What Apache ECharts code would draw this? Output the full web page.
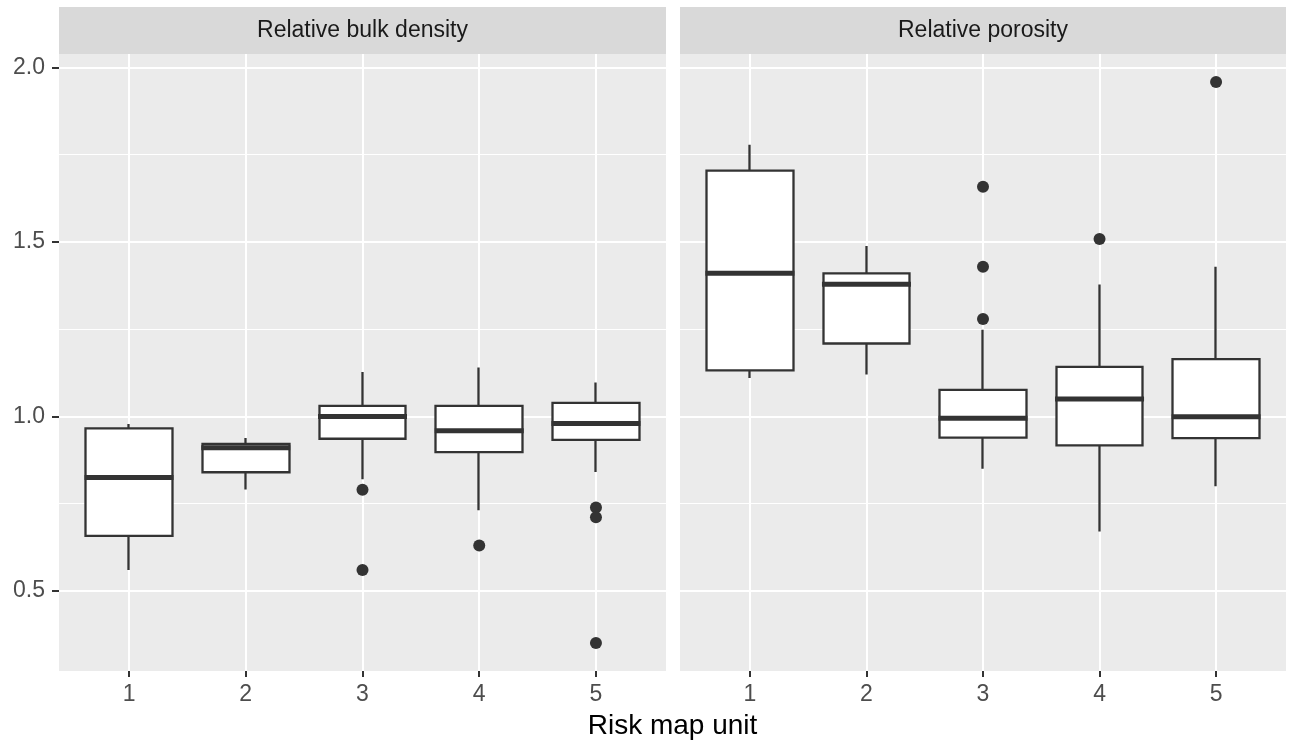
<!DOCTYPE html>
<html>
<head>
<meta charset="utf-8">
<title>Risk map unit boxplots</title>
<script src="https://cdn.jsdelivr.net/npm/echarts@6/dist/echarts.min.js"></script>
<style>
html, body {margin: 0; padding: 0; background: #fff;}
#chart {width: 1289px; height: 745px;}
</style>
</head>
<body>
<div id="chart"></div>
<script>
// x categories
var units = ['1', '2', '3', '4', '5'];
var panelTitles = ['Relative bulk density', 'Relative porosity'];
var axisTitle = 'Risk map unit';

// Relative bulk density (whisker low, Q1, median, Q3, whisker high)
var bulkLow    = [0.560, 0.791, 0.820, 0.731, 0.841];
var bulkQ1     = [0.658, 0.840, 0.936, 0.898, 0.933];
var bulkMedian = [0.825, 0.910, 1.000, 0.959, 0.980];
var bulkQ3     = [0.966, 0.921, 1.030, 1.030, 1.039];
var bulkHigh   = [0.978, 0.938, 1.127, 1.140, 1.097];
var bulkOutX   = [2, 2, 3, 4, 4, 4];
var bulkOutY   = [0.790, 0.560, 0.630, 0.739, 0.711, 0.351];

// Relative porosity
var poroLow    = [1.110, 1.120, 0.850, 0.670, 0.800];
var poroQ1     = [1.132, 1.209, 0.939, 0.917, 0.938];
var poroMedian = [1.410, 1.379, 0.995, 1.050, 0.999];
var poroQ3     = [1.704, 1.410, 1.076, 1.142, 1.164];
var poroHigh   = [1.778, 1.488, 1.248, 1.378, 1.429];
var poroOutX   = [2, 2, 2, 3, 4];
var poroOutY   = [1.658, 1.429, 1.279, 1.508, 1.958];

// y ticks
var yMajor = [0.5, 1.0, 1.5, 2.0];
var yMinor = [0.75, 1.25, 1.75];

var fontName = 'Liberation Sans, Arial, sans-serif';
var boxColor = '#333333';

// y range like ggplot: data range + 5%
var allY = [].concat(bulkLow, bulkHigh, bulkOutY, poroLow, poroHigh, poroOutY);
var dMin = Math.min.apply(null, allY), dMax = Math.max.apply(null, allY);
var yMin = dMin - (dMax - dMin) * 0.05;
var yMax = dMax + (dMax - dMin) * 0.05;

function candleData(q1, q3, low, high) {
	var arr = [];
	for (var i = 0; i < q1.length; i++) {
		arr.push([q1[i], q3[i], low[i], high[i]]);
	}
	return arr;
}

function pointData(xs, ys) {
	var arr = [];
	for (var i = 0; i < ys.length; i++) {
		arr.push([xs ? xs[i] : i, ys[i]]);
	}
	return arr;
}

var panels = [
	{left: 59, width: 607, low: bulkLow, q1: bulkQ1, med: bulkMedian, q3: bulkQ3, high: bulkHigh, ox: bulkOutX, oy: bulkOutY},
	{left: 680, width: 606, low: poroLow, q1: poroQ1, med: poroMedian, q3: poroQ3, high: poroHigh, ox: poroOutX, oy: poroOutY}
];
var panelTop = 54, panelHeight = 617;

var grids = [], xAxes = [], yAxes = [], series = [], graphics = [];

for (var p = 0; p < panels.length; p++) {
	var pn = panels[p];
	var unit = pn.width / 5.2;
	var bg = grids.length, inner = grids.length + 1;

	// panel background grid (horizontal gridlines, y axis)
	grids.push({left: pn.left, top: panelTop, width: pn.width, height: panelHeight, show: true,
		backgroundColor: '#EBEBEB', borderWidth: 0});
	// inner grid from category 1 to 5 (ggplot 0.6 expansion)
	grids.push({left: pn.left + unit * 0.6, top: panelTop, width: pn.width - unit * 1.2, height: panelHeight});

	xAxes.push({gridIndex: bg, type: 'value', min: 0, max: 1, show: false});
	xAxes.push({
		gridIndex: inner, type: 'category', data: units, boundaryGap: false,
		axisLine: {show: false},
		axisTick: {show: true, length: 6, interval: 0, lineStyle: {color: boxColor, width: 2}},
		axisLabel: {show: true, interval: 0, margin: 12, fontSize: 23, color: '#4D4D4D', fontFamily: fontName},
		splitLine: {show: true, interval: 0, lineStyle: {color: '#fff', width: 2}}
	});

	yAxes.push({
		gridIndex: bg, type: 'value', min: yMin, max: yMax,
		axisLine: {show: false},
		axisTick: {show: p == 0, length: 7, customValues: yMajor, lineStyle: {color: boxColor, width: 2}},
		axisLabel: {show: p == 0, margin: 14, fontSize: 23, color: '#4D4D4D', fontFamily: fontName,
			customValues: yMajor,
			formatter: function (v) { return v.toFixed(1); }},
		splitLine: {show: true, lineStyle: {color: '#fff', width: 2}}
	});
	yAxes.push({gridIndex: inner, type: 'value', min: yMin, max: yMax, show: false});

	// minor gridlines
	series.push({
		type: 'line', xAxisIndex: bg, yAxisIndex: bg, data: [], z: 1, silent: true,
		markLine: {
			silent: true, symbol: ['none', 'none'], label: {show: false}, animation: false,
			lineStyle: {color: '#fff', width: 1, type: 'solid'},
			data: yMinor.map(function (v) { return {yAxis: v}; })
		}
	});
	// box + whiskers
	series.push({
		type: 'candlestick', xAxisIndex: inner, yAxisIndex: inner, barWidth: 87, clip: false, silent: true, z: 5,
		itemStyle: {color: '#fff', color0: '#fff', borderColor: boxColor, borderColor0: boxColor, borderWidth: 2.3},
		data: candleData(pn.q1, pn.q3, pn.low, pn.high)
	});
	// median line
	series.push({
		type: 'scatter', xAxisIndex: inner, yAxisIndex: inner, symbol: 'rect', symbolSize: [89, 5],
		clip: false, silent: true, z: 6, itemStyle: {color: boxColor, opacity: 1},
		data: pointData(null, pn.med)
	});
	// outliers
	series.push({
		type: 'scatter', xAxisIndex: inner, yAxisIndex: inner, symbol: 'circle', symbolSize: 12,
		clip: false, silent: true, z: 6, itemStyle: {color: boxColor, opacity: 1},
		data: pointData(pn.ox, pn.oy)
	});

	// facet strip
	graphics.push({type: 'rect', z: 10, shape: {x: pn.left, y: 7, width: pn.width, height: 47},
		style: {fill: '#D9D9D9'}, silent: true});
	graphics.push({type: 'text', z: 11, x: pn.left + pn.width / 2, y: 31,
		style: {text: panelTitles[p], fontSize: 23, fontFamily: fontName, fill: '#1A1A1A',
			textAlign: 'center', textVerticalAlign: 'middle'}, silent: true});
}

graphics.push({type: 'text', z: 11, x: (59 + 1286) / 2, y: 726,
	style: {text: axisTitle, fontSize: 28, fontFamily: fontName, fill: '#000',
		textAlign: 'center', textVerticalAlign: 'middle'}, silent: true});

var option = {
	backgroundColor: '#fff',
	animation: false,
	textStyle: {fontFamily: fontName},
	grid: grids,
	xAxis: xAxes,
	yAxis: yAxes,
	series: series,
	graphic: graphics
};

var myChart = echarts.init(document.getElementById('chart'), null, {renderer: 'canvas'});
myChart.setOption(option);
</script>
</body>
</html>
